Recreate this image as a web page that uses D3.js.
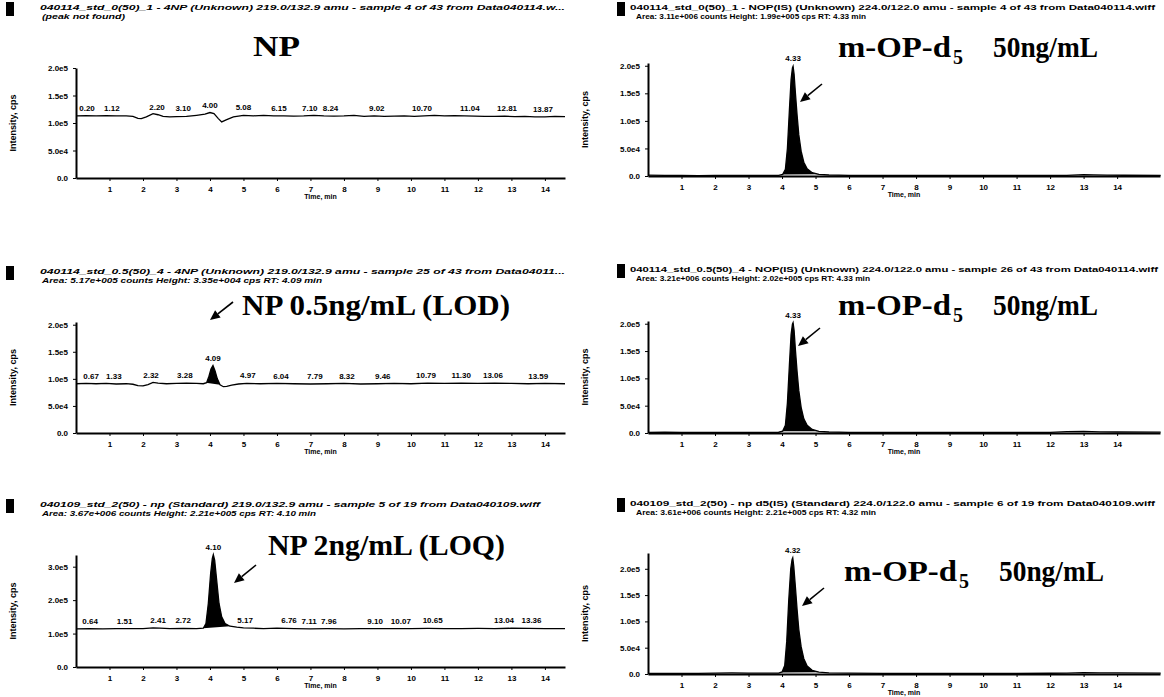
<!DOCTYPE html>
<html>
<head>
<meta charset="utf-8">
<script src="https://cdn.jsdelivr.net/npm/d3@7"></script>
<style>
  body { margin: 0; background: #fff; }
</style>
</head>
<body>
<svg id="chart"></svg>
<script>
// Traces: [time (min), intensity (cps)]
const npBlankTrace = [
    [0, 1.13e5], [0.3, 1.135e5], [0.6, 1.13e5], [0.9, 1.135e5], [1.2, 1.13e5], [1.5, 1.13e5],
    [1.7, 1.12e5], [1.85, 1.085e5], [1.95, 1.08e5], [2.1, 1.11e5], [2.3, 1.17e5], [2.45, 1.15e5],
    [2.6, 1.12e5], [2.8, 1.11e5], [3.0, 1.115e5], [3.3, 1.12e5], [3.6, 1.14e5], [3.85, 1.16e5],
    [4.0, 1.19e5], [4.12, 1.17e5], [4.25, 1.08e5], [4.35, 1.02e5], [4.5, 1.06e5], [4.7, 1.11e5],
    [5.0, 1.14e5], [5.3, 1.13e5], [5.6, 1.14e5], [5.9, 1.13e5], [6.2, 1.13e5], [6.5, 1.125e5],
    [6.8, 1.13e5], [7.1, 1.14e5], [7.4, 1.13e5], [7.7, 1.125e5], [8.0, 1.13e5], [8.3, 1.14e5],
    [8.6, 1.12e5], [8.9, 1.13e5], [9.2, 1.12e5], [9.5, 1.125e5], [9.8, 1.13e5], [10.1, 1.12e5],
    [10.4, 1.13e5], [10.7, 1.14e5], [11.0, 1.13e5], [11.3, 1.135e5], [11.6, 1.13e5], [11.9, 1.125e5],
    [12.2, 1.12e5], [12.5, 1.12e5], [12.8, 1.125e5], [13.1, 1.115e5], [13.4, 1.12e5], [13.7, 1.11e5],
    [14.0, 1.11e5], [14.3, 1.12e5], [14.6, 1.115e5]
];
const npLodTrace = [
    [0, 0.91e5], [0.3, 0.915e5], [0.6, 0.91e5], [0.9, 0.915e5], [1.2, 0.905e5], [1.5, 0.91e5],
    [1.7, 0.9e5], [1.85, 0.875e5], [2.0, 0.87e5], [2.15, 0.895e5], [2.3, 0.935e5], [2.45, 0.92e5],
    [2.7, 0.91e5], [3.0, 0.915e5], [3.3, 0.92e5], [3.6, 0.915e5], [3.8, 0.91e5], [3.9, 0.93e5],
    [3.97, 1.05e5], [4.03, 1.18e5], [4.09, 1.245e5], [4.15, 1.15e5], [4.22, 1.0e5], [4.3, 0.89e5],
    [4.4, 0.855e5], [4.5, 0.86e5], [4.65, 0.885e5], [4.85, 0.905e5], [5.1, 0.915e5], [5.5, 0.91e5],
    [6.0, 0.915e5], [6.5, 0.91e5], [7.0, 0.905e5], [7.5, 0.91e5], [8.0, 0.915e5], [8.5, 0.905e5],
    [9.0, 0.91e5], [9.5, 0.915e5], [10.0, 0.91e5], [10.5, 0.92e5], [11.0, 0.915e5], [11.5, 0.92e5],
    [12.0, 0.915e5], [12.5, 0.92e5], [13.0, 0.915e5], [13.5, 0.91e5], [14.0, 0.915e5], [14.6, 0.91e5]
];
const npLoqTrace = [
    [0, 1.14e5], [0.4, 1.145e5], [0.8, 1.14e5], [1.2, 1.15e5], [1.6, 1.15e5], [2.0, 1.15e5],
    [2.3, 1.17e5], [2.5, 1.165e5], [2.8, 1.15e5], [3.2, 1.155e5], [3.6, 1.15e5], [3.8, 1.16e5],
    [3.88, 1.3e5], [3.95, 1.9e5], [4.02, 2.8e5], [4.07, 3.25e5], [4.10, 3.36e5], [4.14, 3.2e5],
    [4.2, 2.6e5], [4.27, 1.9e5], [4.35, 1.5e5], [4.45, 1.3e5], [4.6, 1.22e5], [4.8, 1.19e5],
    [5.0, 1.17e5], [5.3, 1.16e5], [5.6, 1.15e5], [6.0, 1.16e5], [6.5, 1.15e5], [7.0, 1.14e5],
    [7.5, 1.145e5], [8.0, 1.14e5], [8.5, 1.145e5], [9.0, 1.15e5], [9.5, 1.15e5], [10.0, 1.15e5],
    [10.5, 1.155e5], [11.0, 1.15e5], [11.5, 1.15e5], [12.0, 1.155e5], [12.5, 1.15e5], [13.0, 1.16e5],
    [13.5, 1.155e5], [14.0, 1.15e5], [14.6, 1.15e5]
];
// internal standard m-OP-d5, three injections
const isTraceA = [
    [0, 1500], [0.5, 1000], [1, 1200], [1.5, 800], [2, 1000], [2.5, 900], [3, 1100], [3.5, 1000],
    [3.9, 1300], [4.02, 3000], [4.1, 12000], [4.16, 50000], [4.22, 120000], [4.27, 175000],
    [4.31, 196000], [4.33, 199000], [4.36, 185000], [4.4, 150000], [4.45, 110000], [4.5, 75000],
    [4.57, 45000], [4.65, 25000], [4.75, 13000], [4.9, 6000], [5.1, 3000], [5.4, 1800], [6, 1300],
    [7, 1100], [8, 1000], [9, 1100], [10, 1000], [11, 1100], [12, 1200], [12.5, 1300], [13, 2500],
    [13.3, 2000], [13.7, 1500], [14.2, 1400], [15.3, 1300]
];
const isTraceB = [
    [0, 1200], [0.5, 1400], [1, 1000], [1.5, 1100], [2, 900], [2.5, 1000], [3, 1000], [3.5, 1100],
    [3.9, 1400], [4.02, 3500], [4.1, 14000], [4.16, 55000], [4.22, 125000], [4.27, 180000],
    [4.31, 199000], [4.33, 202000], [4.36, 188000], [4.4, 152000], [4.45, 112000], [4.5, 78000],
    [4.57, 47000], [4.65, 26000], [4.75, 14000], [4.9, 6500], [5.1, 3000], [5.4, 1800], [6, 1200],
    [7, 1100], [8, 1000], [9, 1000], [10, 1100], [11, 1000], [12, 1300], [12.5, 2500], [13, 2800],
    [13.5, 2200], [14.0, 1800], [15.3, 1500]
];
const isTraceC = [
    [0, 1000], [0.5, 1100], [1, 1000], [1.5, 1200], [2, 1500], [2.5, 2000], [3, 1800], [3.5, 1500],
    [3.9, 1600], [4.0, 4000], [4.08, 16000], [4.14, 62000], [4.2, 140000], [4.26, 200000],
    [4.3, 218000], [4.32, 221000], [4.35, 205000], [4.4, 165000], [4.45, 122000], [4.5, 85000],
    [4.57, 52000], [4.65, 29000], [4.75, 15000], [4.9, 7000], [5.1, 3500], [5.4, 2000], [6, 1500],
    [7, 1300], [8, 1200], [9, 1300], [10, 1200], [11, 1300], [12, 1400], [12.5, 1500], [13, 2500],
    [13.5, 2300], [14.0, 2000], [15.3, 1800]
];

// Peak labels: [text, time where the label sits]
const npBlankLabels = [
    ["0.20", 0.33], ["1.12", 1.07], ["2.20", 2.42], ["3.10", 3.2], ["4.00", 4.0], ["5.08", 5.0],
    ["6.15", 6.06], ["7.10", 6.98], ["8.24", 7.6], ["9.02", 8.98], ["10.70", 10.33], ["11.04", 11.76],
    ["12.81", 12.87], ["13.87", 13.94]
];
const npLodLabels = [
    ["0.67", 0.45], ["1.33", 1.13], ["2.32", 2.24], ["3.28", 3.25], ["4.09", 4.09], ["4.97", 5.13],
    ["6.04", 6.12], ["7.79", 7.13], ["8.32", 8.09], ["9.46", 9.16], ["10.79", 10.45], ["11.30", 11.5],
    ["13.06", 12.45], ["13.59", 13.8]
];
const npLoqLabels = [
    ["0.64", 0.42], ["1.51", 1.45], ["2.41", 2.45], ["2.72", 3.2], ["4.10", 4.10], ["5.17", 5.05],
    ["6.76", 6.36], ["7.11", 6.96], ["7.96", 7.55], ["9.10", 8.93], ["10.07", 9.7], ["10.65", 10.65],
    ["13.04", 12.78], ["13.36", 13.6]
];
const isLabelsA = [["4.33", 4.33]];
const isLabelsB = [["4.33", 4.33]];
const isLabelsC = [["4.32", 4.32]];

// Header lines above each trace
const titleNpBlank = ["040114_std_0(50)_1 - 4NP (Unknown) 219.0/132.9 amu - sample 4 of 43 from Data040114.w...",
    "(peak not found)"];
const titleIsA = ["040114_std_0(50)_1 - NOP(IS) (Unknown) 224.0/122.0 amu - sample 4 of 43 from Data040114.wiff",
    "Area: 3.11e+006 counts  Height: 1.99e+005 cps  RT: 4.33 min"];
const titleNpLod = ["040114_std_0.5(50)_4 - 4NP (Unknown) 219.0/132.9 amu - sample 25 of 43 from Data04011...",
    "Area: 5.17e+005 counts  Height: 3.35e+004 cps  RT: 4.09 min"];
const titleIsB = ["040114_std_0.5(50)_4 - NOP(IS) (Unknown) 224.0/122.0 amu - sample 26 of 43 from Data040114.wiff",
    "Area: 3.21e+006 counts  Height: 2.02e+005 cps  RT: 4.33 min"];
const titleNpLoq = ["040109_std_2(50) - np (Standard) 219.0/132.9 amu - sample 5 of 19 from Data040109.wiff",
    "Area: 3.67e+006 counts  Height: 2.21e+005 cps  RT: 4.10 min"];
const titleIsC = ["040109_std_2(50) - np d5(IS) (Standard) 224.0/122.0 amu - sample 6 of 19 from Data040109.wiff",
    "Area: 3.61e+006 counts  Height: 2.21e+005 cps  RT: 4.32 min"];

// Axis ticks
const yTicks2e5 = [0, 5e4, 1e5, 1.5e5, 2e5];
const yTicks3e5 = [0, 1e5, 2e5, 3e5];
const timeTicks = [1, 2, 3, 4, 5, 6, 7, 8, 9, 10, 11, 12, 13, 14];

(function () {
    const width = 1164;
    const height = 697;

    const svg = d3.select("#chart")
        .attr("width", width)
        .attr("height", height)
        .style("font-family", "'Liberation Sans', Arial, sans-serif");

    // Panel layout (pixels) - left column / right column
    const L = { left: 76, right: 565, xMax: 14.6, sqX: 6, titleX: 40, sub: 2 };
    const R = { left: 648, right: 1160, xMax: 15.28, sqX: 617, titleX: 630, sub: 6 };

    const panels = [
        { col: L, trace: npBlankTrace, labels: npBlankLabels, title: titleNpBlank, italic: true,
          peak: null, yMax: 2e5, yTicks: yTicks2e5, top: 68, bottom: 178, titleY: 10, w1: 525, w2: 83,
          note: { kind: "np", text: "NP", x: 253, y: 56, w: 47 } },
        { col: R, trace: isTraceA, labels: isLabelsA, title: titleIsA, italic: false,
          peak: [4.0, 5.1], yMax: 2.05e5, yTicks: yTicks2e5, top: 63, bottom: 176, titleY: 10, w1: 525, w2: 230,
          note: { kind: "is", x: 838, y: 57, arrow: [822, 84, 800, 102] } },
        { col: L, trace: npLodTrace, labels: npLodLabels, title: titleNpLod, italic: true,
          peak: [3.88, 4.3], yMax: 2.05e5, yTicks: yTicks2e5, top: 322, bottom: 433, titleY: 274, w1: 525, w2: 280,
          note: { kind: "np", text: "NP 0.5ng/mL (LOD)", x: 242, y: 315, w: 268, arrow: [233, 302, 210, 320] } },
        { col: R, trace: isTraceB, labels: isLabelsB, title: titleIsB, italic: false,
          peak: [4.0, 5.1], yMax: 2.05e5, yTicks: yTicks2e5, top: 321, bottom: 433, titleY: 272, w1: 528, w2: 234,
          note: { kind: "is", x: 838, y: 315, arrow: [820, 328, 798, 346] } },
        { col: L, trace: npLoqTrace, labels: npLoqLabels, title: titleNpLoq, italic: true,
          peak: [3.8, 4.6], yMax: 3.35e5, yTicks: yTicks3e5, top: 555, bottom: 667, titleY: 507, w1: 500, w2: 274,
          note: { kind: "np", text: "NP 2ng/mL (LOQ)", x: 268, y: 555, w: 237, arrow: [256, 565, 234, 583] } },
        { col: R, trace: isTraceC, labels: isLabelsC, title: titleIsC, italic: false,
          peak: [3.95, 5.1], yMax: 2.3e5, yTicks: yTicks2e5, top: 553, bottom: 674, titleY: 506, w1: 525, w2: 240,
          note: { kind: "is", x: 844, y: 581, arrow: [824, 588, 802, 606] } }
    ];

    const fmtTick = v => v === 0 ? "0.0" : d3.format(".1e")(v).replace("+", "");

    // linear interpolation of a trace at time t
    function valueAt(trace, t) {
        const i = d3.bisector(d => d[0]).left(trace, t);
        if (i <= 0) return trace[0][1];
        if (i >= trace.length) return trace[trace.length - 1][1];
        const a = trace[i - 1], b = trace[i];
        return a[1] + (b[1] - a[1]) * (t - a[0]) / (b[0] - a[0]);
    }

    function drawArrow(g, a) {
        const [x1, y1, x2, y2] = a;
        const ang = Math.atan2(y2 - y1, x2 - x1);
        const len = 10, hw = 4.5;
        const bx = x2 - len * Math.cos(ang), by = y2 - len * Math.sin(ang);
        g.append("line")
            .attr("x1", x1).attr("y1", y1)
            .attr("x2", bx).attr("y2", by)
            .attr("stroke", "#000")
            .attr("stroke-width", 1.6);
        g.append("path")
            .attr("d", `M${x2},${y2}L${bx + hw * Math.sin(ang)},${by - hw * Math.cos(ang)}` +
                `L${bx - hw * Math.sin(ang)},${by + hw * Math.cos(ang)}Z`)
            .attr("fill", "#000");
    }

    panels.forEach(p => {
        const c = p.col;
        const g = svg.append("g");

        const x = d3.scaleLinear().domain([0, c.xMax]).range([c.left, c.right]);
        const y = d3.scaleLinear().domain([0, p.yMax]).range([p.bottom, p.top]);

        // Header block
        g.append("rect")
            .attr("x", c.sqX)
            .attr("y", p.titleY - 8)
            .attr("width", 8)
            .attr("height", 14)
            .attr("fill", "#000");

        p.title.forEach((t, i) => {
            g.append("text")
                .attr("x", c.titleX + (i ? c.sub : 0))
                .attr("y", p.titleY + i * 9)
                .attr("font-size", "8px")
                .attr("font-weight", "bold")
                .attr("font-style", p.italic ? "italic" : "normal")
                .attr("textLength", i ? p.w2 : p.w1)
                .attr("lengthAdjust", "spacingAndGlyphs")
                .text(t);
        });

        // Axes
        const yAxis = g.append("g")
            .attr("transform", `translate(${c.left},0)`)
            .call(d3.axisLeft(y).tickValues(p.yTicks).tickFormat(fmtTick).tickSize(3).tickSizeOuter(0).tickPadding(5));
        yAxis.select(".domain").attr("stroke-width", 2);

        const xAxis = g.append("g")
            .attr("transform", `translate(0,${p.bottom})`)
            .call(d3.axisBottom(x).tickValues(timeTicks).tickFormat(d3.format("d")).tickSize(3).tickSizeOuter(0).tickPadding(5));
        xAxis.select(".domain").attr("stroke-width", 1.8);

        [yAxis, xAxis].forEach(a => {
            a.attr("font-family", null).attr("font-size", null);
            a.selectAll("text")
                .attr("font-size", "8px")
                .attr("font-weight", "bold")
                .attr("fill", "#000");
        });

        g.append("text")
            .attr("transform", `translate(${c.left - 60},${(p.top + p.bottom) / 2}) rotate(-90)`)
            .attr("text-anchor", "middle")
            .attr("font-size", "9px")
            .attr("font-weight", "bold")
            .text("Intensity, cps");

        g.append("text")
            .attr("x", (c.left + c.right) / 2)
            .attr("y", p.bottom + 21)
            .attr("text-anchor", "middle")
            .attr("font-size", "7px")
            .attr("font-weight", "bold")
            .text("Time, min");

        // Filled peak: area between the trace and the straight baseline that joins its ends
        if (p.peak) {
            const pts = p.trace.filter(d => d[0] >= p.peak[0] && d[0] <= p.peak[1]);
            pts.unshift([p.peak[0], valueAt(p.trace, p.peak[0])]);
            pts.push([p.peak[1], valueAt(p.trace, p.peak[1])]);
            g.append("path")
                .attr("d", d3.line().x(d => x(d[0])).y(d => y(d[1]))(pts) + "Z")
                .attr("fill", "#000");
        }

        // Trace
        g.append("path")
            .datum(p.trace)
            .attr("d", d3.line().x(d => x(d[0])).y(d => y(d[1])))
            .attr("fill", "none")
            .attr("stroke", "#000")
            .attr("stroke-width", 1.3);

        // Peak labels
        g.selectAll(".plabel")
            .data(p.labels)
            .join("text")
            .attr("x", d => x(d[1]))
            .attr("y", d => y(valueAt(p.trace, d[1])) - 5)
            .attr("text-anchor", "middle")
            .attr("font-size", "8px")
            .attr("font-weight", "bold")
            .text(d => d[0]);

        // Annotation in serif
        const n = p.note;
        const serif = "'Liberation Serif', 'Times New Roman', serif";
        if (n.kind === "np") {
            g.append("text")
                .attr("x", n.x)
                .attr("y", n.y)
                .attr("font-family", serif)
                .attr("font-size", "29px")
                .attr("font-weight", "bold")
                .attr("textLength", n.w)
                .attr("lengthAdjust", "spacingAndGlyphs")
                .text(n.text);
        } else {
            g.append("text")
                .attr("x", n.x)
                .attr("y", n.y)
                .attr("font-family", serif)
                .attr("font-size", "30px")
                .attr("font-weight", "bold")
                .attr("textLength", 113)
                .attr("lengthAdjust", "spacingAndGlyphs")
                .text("m-OP-d");
            g.append("text")
                .attr("x", n.x + 115)
                .attr("y", n.y + 7)
                .attr("font-family", serif)
                .attr("font-size", "20px")
                .attr("font-weight", "bold")
                .text("5");
            g.append("text")
                .attr("x", n.x + 155)
                .attr("y", n.y)
                .attr("font-family", serif)
                .attr("font-size", "30px")
                .attr("font-weight", "bold")
                .attr("textLength", 105)
                .attr("lengthAdjust", "spacingAndGlyphs")
                .text("50ng/mL");
        }
        if (n.arrow) drawArrow(g, n.arrow);
    });
})();
</script>
</body>
</html>
